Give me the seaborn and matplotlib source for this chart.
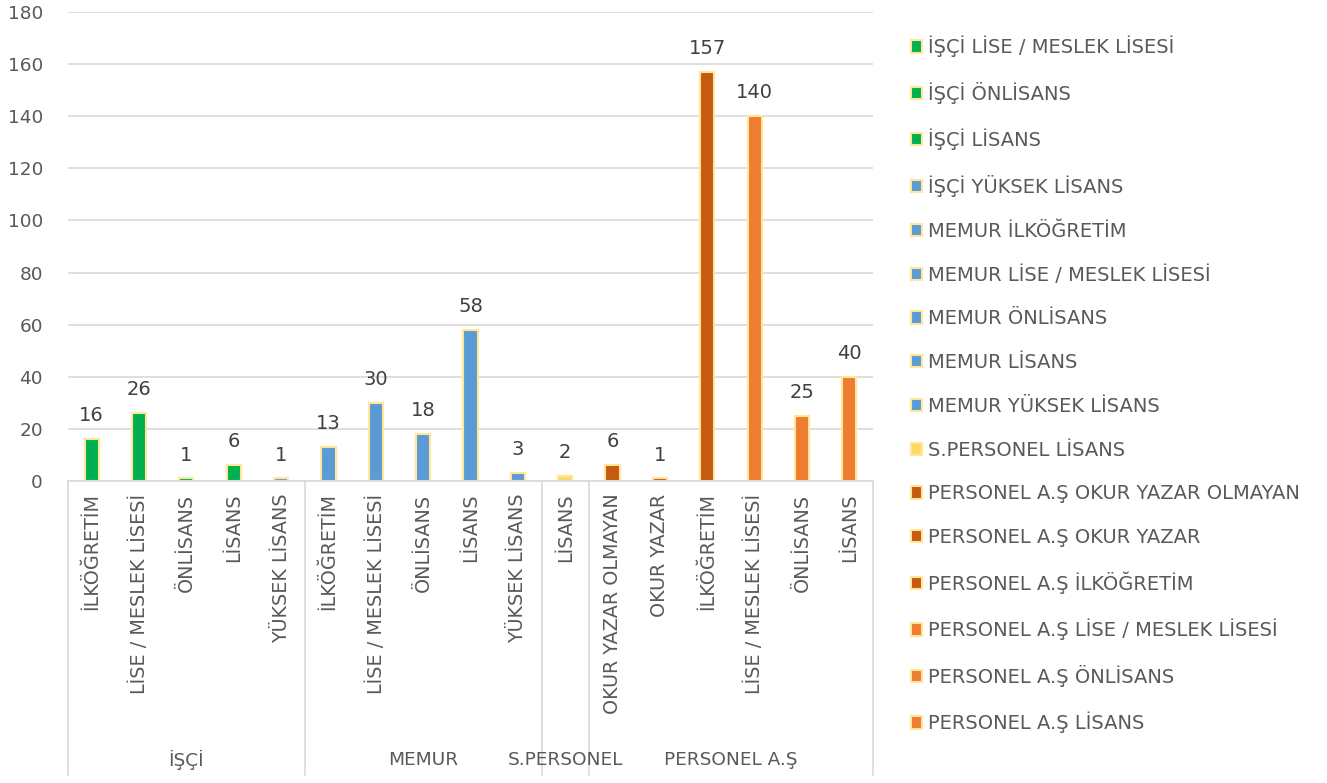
import matplotlib
matplotlib.use('Agg')
from matplotlib import pyplot as plt
from matplotlib.patches import Patch
import seaborn as sns
import pandas as pd

# veriler
gruplar = ['İŞÇİ'] * 5 + ['MEMUR'] * 5 + ['S.PERSONEL'] + ['PERSONEL A.Ş'] * 6
alt_etiketler = ['İLKÖĞRETİM', 'LİSE / MESLEK LİSESİ', 'ÖNLİSANS', 'LİSANS', 'YÜKSEK LİSANS',
                 'İLKÖĞRETİM', 'LİSE / MESLEK LİSESİ', 'ÖNLİSANS', 'LİSANS', 'YÜKSEK LİSANS',
                 'LİSANS',
                 'OKUR YAZAR OLMAYAN', 'OKUR YAZAR', 'İLKÖĞRETİM', 'LİSE / MESLEK LİSESİ', 'ÖNLİSANS', 'LİSANS']
degerler = [16, 26, 1, 6, 1, 13, 30, 18, 58, 3, 2, 6, 1, 157, 140, 25, 40]
renkler = ['#00b050'] * 4 + ['#5b9bd5'] * 6 + ['#ffd966'] + ['#c55a11'] * 3 + ['#ed7d31'] * 3

isimler = [g + ' ' + a for g, a in zip(gruplar, alt_etiketler)]
df = pd.DataFrame({'isim': isimler, 'deger': degerler})
palet = dict(zip(isimler, renkler))

sns.set_style('white')
plt.rcParams['font.family'] = ['DejaVu Sans']

fig = plt.figure(figsize=(13.27, 7.83), dpi=100)
ax = fig.add_axes([68 / 1327, 1 - 481 / 783, (873 - 68) / 1327, (481 - 12) / 783])

sns.barplot(data=df, x='isim', y='deger', hue='isim', palette=palet, order=isimler,
            dodge=False, legend=False, width=0.3, saturation=1,
            edgecolor='#ffe699', linewidth=1.5, ax=ax)

for c in ax.containers:
    ax.bar_label(c, padding=10, fontsize=14, color='#404040')

ax.set_ylim(0, 180)
ax.set_yticks(range(0, 181, 20))
ax.set_xlim(-0.5, len(isimler) - 0.5)
ax.yaxis.grid(True, color='#d9d9d9', linewidth=1.2)
ax.set_axisbelow(True)
for s in ['top', 'right', 'left']:
    ax.spines[s].set_visible(False)
ax.spines['bottom'].set_color('#d9d9d9')
ax.spines['bottom'].set_linewidth(1.2)

ax.set_xticks(range(len(isimler)))
ax.set_xticklabels(alt_etiketler, rotation=90, va='top')
ax.tick_params(axis='x', length=0, pad=9, labelsize=13.8, labelcolor='#595959')
ax.tick_params(axis='y', length=0, pad=18, labelsize=13.3, labelcolor='#595959')
ax.set_xlabel('')
ax.set_ylabel('')

# grup ayraçları ve grup etiketleri
alt = -(775 - 481) / (481 - 12)
tr = ax.get_xaxis_transform()
sinirlar = [-0.5]
sira = []
for g in gruplar:
    if g not in sira:
        sira.append(g)
bas = 0
for g in sira:
    n = gruplar.count(g)
    son = bas + n
    sinirlar.append(son - 0.5)
    ax.text((bas + son - 1) / 2, -(760 - 481) / (481 - 12), g, transform=tr,
            ha='center', va='center', fontsize=13.3, color='#595959')
    bas = son
for x in sinirlar:
    ax.plot([x, x], [0, alt], transform=tr, color='#d9d9d9', linewidth=1.2, clip_on=False)

# lejant (ilk seri lejantta yok)
tutamaclar = [Patch(facecolor=palet[i], edgecolor='#ffe699', linewidth=1.5) for i in isimler[1:]]
fig.legend(tutamaclar, isimler[1:], loc='upper left', bbox_to_anchor=(903 / 1327, 1 - 28 / 783),
           frameon=False, fontsize=14, labelcolor='#595959', handlelength=0.6, handleheight=0.6,
           handletextpad=0.3, labelspacing=1.27, borderaxespad=0)

plt.savefig('out.png', dpi=100)
